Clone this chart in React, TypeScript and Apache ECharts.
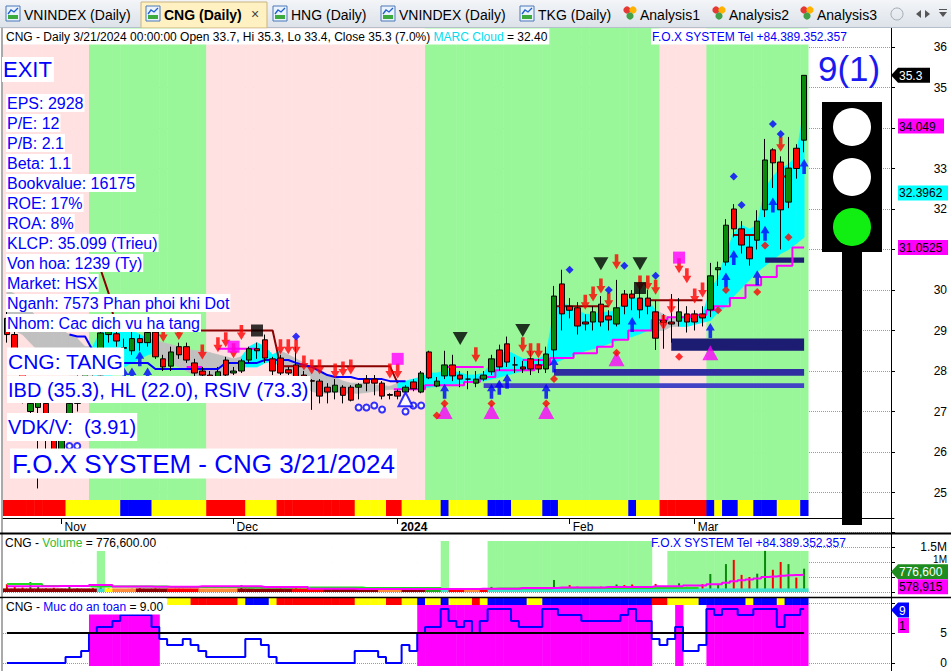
import React, { useEffect, useRef } from "react";
import * as echarts from "echarts";

const FONT = "'Liberation Sans', Arial, Helvetica, sans-serif";
const N_SLOTS = 114; // 103 trading days + blank bars on the right (AmiBroker style)

// ---------- daily candles: index 0 = 23 Oct 2023 ... index 102 = 21 Mar 2024
const OPEN = [
  29.3, 28.9, 28.3, 27.0, 27.1, 27.2, 26.3, 26.0, 26.5, 27.2,
  27.6, 28.2, 27.9, 28.9, 28.92, 28.58, 28.5, 28.8, 28.7, 28.96,
  28.3, 28.12, 28.6, 28.6, 28.2, 28.0, 27.9, 27.85, 28.27, 27.95,
  28.0, 28.27, 28.55, 28.77, 28.3, 28.32, 28.03, 28.15, 27.9, 27.76,
  27.75, 27.6, 27.48, 27.6, 27.6, 27.6, 27.8, 27.8, 27.7, 27.42,
  27.5, 27.48, 27.73, 27.48, 28.47, 27.63, 27.88, 28.15, 27.9, 27.8,
  27.7, 27.8, 27.98, 28.52, 28.67, 28.15, 28.1, 28.3, 28.15, 28.05,
  28.52, 30.15, 29.6, 29.56, 29.21, 29.21, 29.65, 29.36, 29.16, 29.9,
  29.9, 29.8, 29.8, 29.46, 29.25, 29.21, 29.23, 29.41, 29.41, 29.41,
  29.51, 30.5, 30.69, 32.0, 31.51, 31.06, 31.23, 31.98, 33.46, 33.16,
  32.17, 33.5, 33.7,
];
const HIGH = [
  29.5, 29.0, 28.4, 27.5, 27.5, 27.3, 26.5, 26.8, 27.3, 27.9,
  28.4, 28.5, 29.1, 29.4, 29.1, 28.8, 29.0, 28.9, 29.1, 29.1,
  28.4, 28.6, 28.7, 28.7, 28.3, 28.1, 28.0, 28.1, 28.35, 28.1,
  28.3, 28.6, 28.7, 28.9, 28.35, 28.4, 28.1, 28.6, 28.0, 27.8,
  27.8, 27.7, 27.8, 27.65, 27.65, 27.7, 27.9, 27.9, 27.75, 27.45,
  27.55, 27.65, 27.8, 28.0, 28.5, 27.85, 28.5, 28.4, 28.0, 28.0,
  28.0, 28.0, 28.4, 28.65, 28.85, 28.35, 28.25, 28.5, 28.3, 28.6,
  30.1, 30.5, 29.8, 29.7, 29.4, 29.6, 29.85, 29.5, 30.25, 30.0,
  30.0, 30.1, 30.0, 29.75, 29.4, 29.9, 29.8, 29.6, 29.5, 29.6,
  30.67, 30.7, 31.75, 32.12, 31.7, 31.36, 31.97, 33.73, 33.5, 33.3,
  33.78, 33.6, 35.3,
];
const LOW = [
  28.7, 28.1, 27.2, 26.5, 25.1, 26.0, 25.7, 25.8, 26.4, 27.0,
  27.5, 27.8, 27.8, 28.7, 28.6, 28.3, 28.4, 28.5, 28.6, 28.3,
  28.0, 28.0, 28.3, 28.2, 27.85, 27.8, 27.7, 27.8, 27.85, 27.9,
  27.95, 28.2, 28.3, 28.2, 27.9, 27.9, 27.9, 27.8, 27.6, 27.04,
  27.2, 27.2, 27.3, 27.2, 27.25, 27.3, 27.5, 27.4, 27.3, 27.3,
  27.3, 27.4, 27.5, 27.45, 27.8, 27.6, 27.8, 27.75, 27.6, 27.55,
  27.6, 27.75, 27.9, 28.0, 28.1, 27.95, 27.95, 27.9, 27.95, 27.95,
  28.3, 29.0, 29.3, 28.9, 29.0, 29.0, 29.1, 29.0, 29.1, 29.4,
  29.5, 29.3, 29.4, 28.52, 28.55, 28.7, 29.1, 28.95, 29.0, 29.1,
  29.33, 30.1, 30.6, 31.3, 30.9, 30.6, 31.0, 31.8, 32.52, 31.0,
  32.02, 32.75, 33.4,
];
const CLOSE = [
  28.9, 28.3, 27.4, 27.2, 27.25, 26.8, 26.0, 26.4, 27.2, 27.6,
  28.2, 28.0, 28.94, 29.2, 28.74, 28.56, 28.8, 28.7, 28.95, 28.35,
  28.1, 28.47, 28.4, 28.27, 27.95, 27.9, 27.85, 27.98, 27.9, 28.0,
  28.25, 28.55, 28.5, 28.32, 28.0, 27.95, 27.95, 27.85, 27.65, 27.75,
  27.38, 27.48, 27.65, 27.4, 27.28, 27.66, 27.7, 27.7, 27.38, 27.4,
  27.38, 27.6, 27.56, 27.95, 27.83, 27.75, 28.15, 27.88, 27.8, 27.8,
  27.8, 27.9, 28.3, 28.1, 28.22, 28.15, 28.05, 28.05, 28.05, 28.42,
  29.85, 29.41, 29.5, 29.11, 29.16, 29.46, 29.21, 29.26, 29.56, 29.6,
  29.8, 29.51, 29.6, 28.81, 29.2, 29.16, 29.46, 29.21, 29.21, 29.31,
  30.35, 30.55, 31.6, 31.51, 31.11, 30.77, 31.7, 33.21, 33.14, 31.98,
  33.01, 33.0, 35.3,
];
const VOLUME = [
  260000, 180000, 150000, 330000, 170000, 120000, 140000, 110000, 230000, 120000, 100000, 130000,
  150000, 120000, 100000, 90000, 110000, 130000, 90000, 120000, 100000, 80000, 110000, 90000, 100000, 80000, 90000, 70000, 100000,
  90000, 230000, 110000, 90000, 80000, 100000, 120000, 80000, 200000, 90000, 110000, 70000, 90000, 100000, 80000, 60000, 90000, 70000, 80000, 60000, 70000,
  80000, 60000, 90000, 120000, 150000, 70000, 90000, 80000, 60000, 90000, 70000, 120000,
  170000, 120000, 130000, 80000, 100000, 90000, 110000, 140000,
  400000, 150000, 230000, 180000, 150000, 170000, 180000, 200000, 250000, 230000, 250000, 200000, 170000, 270000, 170000, 130000,
  290000, 170000, 170000, 260000, 600000, 270000, 930000, 1070000, 570000, 500000, 610000, 1370000, 740000, 1000000, 930000, 480000, 776600,
];
const VOL_MA_SHORT = [
  190000, 190000, 190000, 190000, 190000, 190000, 190000, 200000, 200000, 200000,
  200000, 230000, 230000, 230000, 180000, 180000, 180000, 180000, 180000, 175000,
  175000, 175000, 175000, 175000, 175000, 190000, 190000, 190000, 190000, 190000,
  190000, 190000, 190000, 170000, 170000, 170000, 170000, 170000, 170000, 110000,
  110000, 110000, 110000, 110000, 110000, 100000, 100000, 100000, 100000, 100000,
  100000, 100000, 100000, 100000, 100000, 100000, 100000, 100000, 100000, 100000,
  100000, 110000, 110000, 110000, 110000, 110000, 130000, 130000, 130000, 130000,
  130000, 150000, 150000, 150000, 150000, 150000, 150000, 170000, 170000, 170000,
  170000, 170000, 170000, 190000, 190000, 190000, 190000, 220000, 220000, 220000,
  260000, 260000, 310000, 360000, 390000, 420000, 450000, 500000, 520000, 540000,
  560000, 565000, 578915,
];
const VOL_MA_LONG = [
  270000, 270000, 270000, 270000, 270000, 200000, 200000, 200000, 200000, 200000,
  200000, 180000, 180000, 180000, 180000, 180000, 180000, 180000, 180000, 180000,
  180000, 170000, 170000, 170000, 170000, 170000, 170000, 170000, 170000, 170000,
  170000, 150000, 150000, 150000, 150000, 150000, 150000, 150000, 150000, 150000,
  150000, 150000, 150000, 150000, 150000, 150000, 130000, 130000, 130000, 130000,
  130000, 130000, 130000, 130000, 130000, 130000, 100000, 100000, 100000, 100000,
  100000, 100000, 100000, 120000, 120000, 120000, 120000, 120000, 120000, 120000,
  130000, 130000, 130000, 130000, 130000, 130000, 130000, 130000, 130000, 130000,
  130000, 130000, 130000, 130000, 130000, 130000, 130000, 130000, 130000, null,
  null, null, null, null, null, null, null, null, null, null,
  null, null, null,
];
// "Muc do an toan" (safety level 0..9)
const SAFETY = [
  0, 0, 0, 0, 0, 0, 0, 0, 1, 1,
  2, 5, 6, 6, 7, 8, 8, 8, 8, 6,
  4, 3, 3, 4, 3, 2, 1, 1, 1, 1,
  1, 4, 4, 3, 1, 0, 0, 0, 0, 0,
  0, 0, 0, 0, 0, 2, 2, 2, 1, 0,
  0, 3, 2, 5, 6, 6, 9, 7, 6, 7,
  5, 7, 9, 9, 9, 7, 6, 6, 6, 9,
  9, 8, 8, 8, 7, 7, 7, 7, 7, 8,
  9, 7, 7, 4, 3, 4, 6, 2, 2, 3,
  9, 8, 9, 9, 8, 8, 9, 9, 9, 6,
  8, 8, 9,
];
// MARC cloud edges and state (1 = bullish cyan, 0 = bearish grey)
const CLOUD_HI = [
  30.0, 29.9, 29.7, 29.5, 29.3, 29.2, 29.1, 29.0, 28.9, 28.8,
  28.6, 28.6, 29.0, 29.2, 29.2, 29.1, 29.0, 28.9, 28.8, 28.75,
  28.7, 28.65, 28.6, 28.55, 28.5, 28.5, 28.45, 28.4, 28.35, 28.3,
  28.35, 28.6, 28.7, 28.6, 28.4, 28.5, 28.4, 28.3, 28.2, 28.1,
  28.0, 27.9, 27.85, 27.75, 27.7, 27.7, 27.68, 27.66, 27.64, 27.62,
  27.7, 27.75, 27.8, 27.85, 27.95, 27.95, 28.0, 28.0, 27.95, 27.9,
  27.9, 27.95, 28.2, 28.4, 28.5, 28.4, 28.3, 28.3, 28.3, 28.4,
  29.5, 29.7, 29.6, 29.5, 29.4, 29.4, 29.45, 29.45, 29.5, 29.7,
  29.8, 29.8, 29.75, 29.5, 29.4, 29.3, 29.35, 29.35, 29.4, 29.4,
  30.0, 30.3, 30.9, 31.4, 31.6, 31.5, 31.6, 32.5, 32.8, 33.0,
  33.1, 33.3, 34.5,
];
const CLOUD_LO = [
  29.2, 29.0, 28.9, 28.7, 28.5, 28.3, 28.1, 28.0, 27.9, 27.9,
  28.0, 27.5, 27.6, 27.8, 28.0, 28.1, 28.2, 28.3, 28.4, 28.45,
  28.3, 28.2, 28.1, 28.0, 27.9, 27.8, 27.8, 27.85, 27.9, 28.0,
  28.1, 28.1, 28.1, 28.2, 28.25, 28.1, 28.0, 27.8, 27.6, 27.5,
  27.45, 27.45, 27.5, 27.45, 27.45, 27.45, 27.47, 27.5, 27.52, 27.55,
  27.55, 27.55, 27.57, 27.58, 27.6, 27.62, 27.65, 27.67, 27.7, 27.72,
  27.74, 27.76, 27.8, 27.85, 27.9, 27.95, 28.0, 28.05, 28.1, 28.15,
  28.2, 28.28, 28.35, 28.42, 28.5, 28.55, 28.6, 28.68, 28.75, 28.8,
  28.85, 28.92, 29.0, 29.0, 29.0, 29.1, 29.1, 29.1, 29.15, 29.2,
  29.25, 29.45, 29.6, 29.85, 30.05, 30.25, 30.45, 30.6, 30.75, 30.9,
  31.0, 31.15, 31.3,
];
const CLOUD_BULL = [
  0, 0, 0, 0, 0, 0, 0, 0, 0, 0,
  0, 1, 1, 1, 1, 1, 1, 1, 1, 0,
  0, 0, 0, 0, 0, 0, 0, 0, 0, 0,
  1, 1, 1, 1, 1, 0, 0, 0, 0, 0,
  0, 0, 0, 0, 0, 0, 0, 0, 0, 0,
  1, 1, 1, 1, 1, 1, 1, 1, 1, 1,
  1, 1, 1, 1, 1, 1, 1, 1, 1, 1,
  1, 1, 1, 1, 1, 1, 1, 1, 1, 1,
  1, 1, 1, 0, 0, 0, 1, 1, 1, 1,
  1, 1, 1, 1, 1, 1, 1, 1, 1, 1,
  1, 1, 1,
];
const STOP_LINE = [
  30.5, 30.5, 30.5, 30.5, 30.5, 30.5, 30.5, 30.5, 30.5, 30.5,
  30.5, 30.5, 30.5, 29.93, 29.0, 29.0, 29.0, 29.0, 29.0, 29.0,
  29.0, 29.0, 29.0, 29.0, 29.0, 29.0, 29.0, 29.0, 29.0, 29.0,
  29.0, 29.0, 29.0, 29.0, 29.0, 28.12, 28.12, 28.12, 28.12, 28.12,
  28.12, 28.12, 28.12, 28.12, 28.12, 28.12, 28.12, 28.12, 28.12, 28.12,
  27.7, null, null, null, null, null, null, null, null, null,
  null, null, null, null, null, null, null, null, null, null,
  29.6, 29.6, 29.6, 29.6, 29.6, 29.6, 29.6, 29.6, null, null,
  null, null, 29.75, 29.75, 29.75, 29.75, 29.75, 29.75, 29.75, 29.75,
  null, null, null, 31.36, 31.36, 31.36, 31.36, null, null, 32.8,
  32.8, null, null,
];
const BLUE_LINE = [
  null, null, null, null, null, null, null, null, 28.9, 28.85,
  28.85, 28.5, 28.5, 28.5, 28.2, 28.2, 28.2, 28.2, 28.2, 28.05,
  28.05, 28.05, 28.05, 28.05, 28.05, 28.05, 28.05, 28.05, 28.2, 28.2,
  28.2, 28.2, 28.2, 28.27, 28.27, 28.27, 28.27, 28.2, 28.15, 28.1,
  28.0, 27.9, 27.85, 27.85, 27.85, 27.8, 27.8, 27.8, 27.8, 27.75,
  27.75, 27.75, null, null, null, null, null, null, null, null,
  null, null, null, null, null, null, null, null, null, null,
  null, null, null, null, null, null, null, null, null, null,
  null, null, null, null, null, null, null, null, null, null,
  null, null, null, null, null, null, null, null, null, null,
  null, null, null,
];
const MAG_STEP = [
  null, null, null, null, null, null, null, null, null, null,
  null, null, null, null, null, null, null, null, null, null,
  null, null, null, null, null, null, null, null, null, null,
  null, null, null, null, null, null, null, null, null, null,
  null, null, null, null, null, null, null, null, null, null,
  27.55, 27.55, 27.55, 27.55, 27.65, 27.65, 27.65, 27.65, 27.65, 27.73,
  27.73, 27.85, 27.85, 28.02, 28.02, 28.02, 28.02, 28.02, 28.15, 28.15,
  28.32, 28.32, 28.32, 28.44, 28.44, 28.44, 28.6, 28.6, 28.77, 28.77,
  29.0, 29.0, 29.0, 29.26, 29.26, 29.33, 29.33, 29.33, 29.38, 29.38,
  29.5, 29.6, 29.6, 29.8, 29.8, 30.12, 30.12, 30.32, 30.32, 30.6,
  30.6, 31.05, 31.05,
];
const MAG_TOP = [
  null, null, null, null, null, null, null, null, null, null,
  null, null, null, null, null, null, null, null, null, null,
  null, null, null, 28.1, 28.1, 28.1, null, 28.55, 28.55, 28.55,
  28.55, 28.55, 28.55, null, null, null, null, null, null, null,
  null, null, null, null, null, null, null, null, null, null,
  null, null, null, null, null, null, 28.1, 28.1, 28.1, 28.1,
  28.1, 28.1, null, null, null, null, 28.27, 28.27, 28.27, 28.27,
  null, null, null, null, null, null, null, null, null, null,
  null, null, null, null, null, null, null, null, null, null,
  null, null, null, null, null, null, null, null, null, null,
  null, null, null,
];
// support zones: [fromIndex, toIndex, top, bottom]
const ZONES = [
  [70, 102, 28.05, 27.88],
  [61, 102, 27.7, 27.58],
  [85, 102, 28.8, 28.5],
  [97, 102, 30.8, 30.67],
];
const ZONE_COLORS = ["#2E2EA0", "#4343C6", "#1C1C72", "#1C1C72"];

// signal markers: [index, price]
const RED_DOWN = [[20, 28.9], [22, 28.95], [25, 28.47], [27, 28.65], [28, 28.77], [29, 28.5], [30, 28.95], [35, 28.6], [36, 28.6], [37, 28.6], [38, 28.2], [39, 28.1], [40, 28.1], [42, 28.0], [43, 28.05], [44, 28.1], [49, 28.0], [50, 28.0], [60, 28.4], [66, 28.65], [67, 28.5], [68, 28.5], [74, 29.7], [75, 29.9], [76, 30.1], [77, 29.75], [78, 30.7], [81, 30.17], [82, 30.17], [83, 30.07], [84, 29.2], [85, 29.6], [86, 30.6], [87, 30.35], [88, 29.85], [89, 30.0], [99, 33.6]];
const BLUE_UP = [[15, 27.9], [16, 27.9], [17, 28.3], [18, 27.9], [56, 27.5], [62, 27.5], [63, 27.6], [64, 27.75], [69, 27.5], [70, 28.15], [80, 29.15], [90, 29.0], [92, 30.25], [93, 30.8], [96, 30.3], [97, 31.4], [98, 32.1], [102, 33.05]];
const BLACK_DOWN = [[58, 28.8], [66, 29.0], [76, 30.65], [81, 30.65]];
const MAG_SQUARE = [[29, 28.6], [50, 28.3], [86, 30.8]];
const BLACK_SQUARE = [[32, 29.0], [81, 30.05]];
const MAG_UP = [[56, 27.0], [62, 27.0], [69, 27.0], [78, 28.3], [90, 28.45]];
const RED_DOT = [[55, 26.9], [56, 27.2], [62, 27.2], [69, 27.2], [70, 27.8], [78, 28.45], [86, 28.35], [91, 29.5], [92, 30.0], [96, 29.95], [97, 31.1], [100, 31.3]];
const BLUE_DOT = [[37, 28.85], [72, 30.5], [77, 30.0], [79, 30.6], [83, 30.35], [93, 32.8], [94, 32.1], [98, 34.1], [99, 33.85]];
const BLUE_RING = [[8, 26.15], [9, 26.15], [45, 27.1], [46, 27.1], [47, 27.15], [48, 27.05], [51, 27.0], [52, 27.15], [53, 27.15]];
const BLUE_TRI = [[51, 27.3]];

// colour runs [from, toExclusive, colour]
const BAND_RUNS = [[0, 11, "pink"], [11, 26, "green"], [26, 54, "pink"], [54, 84, "green"], [84, 90, "pink"], [90, 103, "green"]];
const STRIP_RUNS = [[0, 8, "red"], [8, 15, "yellow"], [15, 19, "blue"], [19, 26, "yellow"], [26, 31, "red"], [31, 35, "yellow"], [35, 45, "red"], [45, 49, "yellow"], [49, 51, "red"], [51, 56, "yellow"], [56, 57, "blue"], [57, 62, "yellow"], [62, 65, "blue"], [65, 69, "yellow"], [69, 71, "blue"], [71, 80, "yellow"], [80, 81, "blue"], [81, 84, "yellow"], [84, 90, "red"], [90, 91, "blue"], [91, 92, "yellow"], [92, 94, "blue"], [94, 96, "yellow"], [96, 99, "blue"], [99, 102, "yellow"], [102, 103, "blue"]];
const SAFE_STRIP_RUNS = [[21, 24, "yellow"], [24, 30, "red"], [30, 31, "yellow"], [31, 34, "blue"], [34, 35, "yellow"], [35, 45, "red"], [45, 49, "yellow"], [49, 51, "red"], [51, 53, "yellow"], [53, 54, "blue"], [54, 56, "yellow"], [56, 57, "blue"], [57, 60, "yellow"], [60, 61, "red"], [61, 62, "yellow"], [62, 67, "blue"], [67, 69, "yellow"], [69, 83, "blue"], [83, 85, "red"], [85, 89, "yellow"], [89, 95, "blue"], [95, 96, "yellow"], [96, 99, "blue"], [99, 100, "yellow"], [100, 103, "blue"]];
const RIBBON_RUNS = [[0, 12, "darkred"], [12, 13, "turq"], [13, 14, "yellow"], [14, 17, "orange"], [17, 21, "darkred"], [21, 25, "red"], [25, 30, "orange"], [30, 37, "darkred"], [37, 41, "red"], [41, 48, "darkred"], [48, 51, "orange"], [51, 54, "darkred"], [54, 56, "vgreen"], [56, 57, "turq"], [57, 59, "red"], [59, 61, "orange"], [61, 62, "red"], [62, 103, "turq"]];
const VOL_HL_RUNS = [[12, 13, 1370000], [56, 57, 1700000], [62, 83, 1700000], [85, 103, 1370000]];
const MONTH_TICKS: [number, string][] = [[7, "Nov"], [29, "Dec"], [50, "2024"], [72, "Feb"], [88, "Mar"]];
const SAFE_LEVEL = 5;
// price-axis labels hidden behind value tags in the reference
const HIDDEN_PRICE_LABELS = [31, 34];

const COLORS: Record<string, string> = {
  pink: "#FFE1E1", green: "#99F799", red: "#FF0000", yellow: "#FFFF00", blue: "#0000FF",
  white: "#FFFFFF", magenta: "#FF00FF", darkred: "#8B0000", orange: "#FF8C3A", turq: "#40E0D0", vgreen: "#22AA22",
};
const KEYS = Object.keys(COLORS);
const PAL = KEYS.map((k) => COLORS[k]);
const code = (k: string) => KEYS.indexOf(k);

const CATS = Array.from({ length: N_SLOTS }, (_, i) => "d" + i);
const N = CLOSE.length;

function expandRuns(runs: any[], lo: number, hi: number) {
  const out: number[][] = [];
  runs.forEach(([a, b, c]) => {
    for (let i = a; i < b; i++) out.push([i, lo, hi, code(c)]);
  });
  return out;
}

const bandRender = (params: any, api: any) => {
  const i = api.value(0);
  const p0 = api.coord([i, api.value(1)]);
  const p1 = api.coord([i, api.value(2)]);
  const w = api.size([1, 0])[0];
  return {
    type: "rect",
    shape: { x: p0[0] - w / 2, y: p1[1], width: w + 0.5, height: p0[1] - p1[1] },
    style: { fill: PAL[api.value(3)] },
    silent: true,
  };
};

const cloudRender = (params: any, api: any) => {
  const i = api.value(0);
  const a = api.coord([i, api.value(1)]);
  const b = api.coord([i + 1, api.value(3)]);
  const c = api.coord([i + 1, api.value(4)]);
  const d = api.coord([i, api.value(2)]);
  const col = api.value(5) ? "#00FFFF" : "#C0C0C0";
  return { type: "polygon", shape: { points: [a, b, c, d] }, style: { fill: col, stroke: col, lineWidth: 0.8 }, silent: true };
};

const zoneRender = (params: any, api: any) => {
  const a = api.coord([api.value(0), api.value(2)]);
  const b = api.coord([api.value(1), api.value(3)]);
  return {
    type: "rect",
    shape: { x: a[0], y: a[1], width: b[0] - a[0], height: Math.max(2, b[1] - a[1]) },
    style: { fill: ZONE_COLORS[api.value(4)] },
    silent: true,
  };
};

function buildOption(): any {
  const tickSet = new Set(MONTH_TICKS.map((t) => t[0]));
  const labelMap: Record<number, string> = {};
  MONTH_TICKS.forEach(([i, s]) => (labelMap[i] = s));

  const grids = [
    { left: 3, top: 28, width: 891, height: 490 },
    { left: 3, top: 47, width: 891, height: 445.5 },
    { left: 3, top: 532, width: 891, height: 60 },
    { left: 3, top: 598, width: 891, height: 68 },
    { left: 3, top: 603, width: 891, height: 60 },
  ];
  const xAxis = grids.map((_, g) => ({
    type: "category",
    gridIndex: g,
    data: CATS,
    boundaryGap: true,
    show: g === 0,
    axisLine: { show: true, lineStyle: { color: "#000", width: 1 } },
    axisTick: { show: true, interval: (i: number) => tickSet.has(i), alignWithLabel: true, length: 6, lineStyle: { color: "#000" } },
    axisLabel: {
      show: true,
      interval: (i: number) => tickSet.has(i),
      formatter: (v: string, i: number) => (labelMap[i] === "2024" ? "{b|2024}" : labelMap[i] || ""),
      align: "left",
      margin: 3,
      padding: [0, 0, 0, 3],
      color: "#000",
      fontSize: 12,
      fontFamily: FONT,
      rich: { b: { fontWeight: "bold", fontSize: 12, fontFamily: FONT, color: "#000" } },
    },
    splitLine: { show: false },
  }));
  const rightAxis = (g: number, min: number, max: number, interval: number, fmt: any, rich: any = undefined) => ({
    type: "value",
    gridIndex: g,
    min,
    max,
    interval,
    position: "right",
    offset: -3,
    axisLine: { show: false },
    axisTick: { show: true, length: 4, lineStyle: { color: "#000" } },
    axisLabel: { margin: 56, align: "right", color: "#000", fontSize: 12, fontFamily: FONT, formatter: fmt, rich },
    splitLine: { show: true, lineStyle: { type: "dotted", color: "#9A9A9A", width: 1 } },
  });
  const yAxis = [
    { type: "value", gridIndex: 0, min: 0, max: 490, show: false },
    rightAxis(1, 25, 36, 1, (v: number) => (HIDDEN_PRICE_LABELS.includes(v) ? "" : String(v))),
    rightAxis(
      2,
      0,
      2000000,
      500000,
      (v: number) => (v === 1500000 ? "1.5M" : v === 1000000 ? "{u|1M}" : ""),
      { u: { fontSize: 10, fontFamily: FONT, color: "#000", padding: [0, 0, 5, 0] } }
    ),
    { type: "value", gridIndex: 3, min: 0, max: 68, show: false },
    rightAxis(4, 0, 10, 5, (v: number) => (v === 10 ? "" : String(v))),
  ];

  const mainBg = [...expandRuns(BAND_RUNS, 18, 490), ...expandRuns(STRIP_RUNS, 2, 18)];
  const cloudData = [];
  for (let i = 0; i < N - 1; i++) cloudData.push([i, CLOUD_HI[i], CLOUD_LO[i], CLOUD_HI[i + 1], CLOUD_LO[i + 1], CLOUD_BULL[i]]);
  const zoneData = ZONES.map((z, k) => [z[0], z[1], z[2], z[3], k]);

  const volCover = CLOSE.map((_, i) => [i, 0, 2000000, code("white")]);
  const volHl: number[][] = [];
  VOL_HL_RUNS.forEach(([a, b, v]) => {
    for (let i = a; i < b; i++) volHl.push([i, 0, v, code("green")]);
  });
  const ribbon = expandRuns(RIBBON_RUNS, 0, 120000);
  const safeBg: number[][] = [];
  SAFETY.forEach((v, i) => {
    if (v >= SAFE_LEVEL) safeBg.push([i, 0, 61, code("magenta")]);
  });
  safeBg.push(...expandRuns(SAFE_STRIP_RUNS, 61, 68));

  const candles = OPEN.map((o, i) => [o, CLOSE[i], LOW[i], HIGH[i]]);
  const volBars = VOLUME.map((v, i) => ({ value: v, itemStyle: { color: CLOSE[i] >= OPEN[i] ? "#0A8A0A" : "#FF0000" } }));

  const ARROW_DOWN = "path://M3,0L7,0L7,7L10,7L5,14L0,7L3,7Z";
  const ARROW_UP = "path://M5,0L10,7L7,7L7,14L3,14L3,7L0,7Z";
  const TRI_DOWN = "path://M0,0L14,0L7,12Z";
  const marker = (data: any, symbol: string, size: any, color: string, z = 7, extra: any = {}) => ({
    type: "scatter",
    xAxisIndex: 1,
    yAxisIndex: 1,
    data,
    symbol,
    symbolSize: size,
    symbolKeepAspect: false,
    itemStyle: { color, ...extra },
    z,
    silent: true,
  });
  const line = (data: any, color: string, width: number, step: any, z = 4, xi = 1, yi = 1) => ({
    type: "line",
    xAxisIndex: xi,
    yAxisIndex: yi,
    data,
    step,
    showSymbol: false,
    symbol: "none",
    connectNulls: false,
    lineStyle: { color, width },
    z,
    silent: true,
  });

  return {
    animation: false,
    backgroundColor: "#FFFFFF",
    grid: grids,
    xAxis,
    yAxis,
    series: [
      { type: "custom", xAxisIndex: 0, yAxisIndex: 0, data: mainBg, renderItem: bandRender, z: 1, silent: true },
      { type: "custom", xAxisIndex: 1, yAxisIndex: 1, data: cloudData, renderItem: cloudRender, z: 2, silent: true },
      { type: "custom", xAxisIndex: 1, yAxisIndex: 1, data: zoneData, renderItem: zoneRender, z: 3, silent: true },
      line(STOP_LINE, "#8B0000", 2, false, 4),
      line(BLUE_LINE, "#0000FF", 2, false, 4),
      line(MAG_TOP, "#FF00FF", 2, false, 4),
      line(MAG_STEP, "#FF00FF", 2, "middle", 4),
      {
        type: "candlestick",
        xAxisIndex: 1,
        yAxisIndex: 1,
        data: candles,
        barWidth: 6,
        itemStyle: { color: "#0A8A0A", color0: "#FF0000", borderColor: "#000", borderColor0: "#000", borderWidth: 1 },
        z: 5,
        silent: true,
      },
      marker(MAG_UP, "triangle", [16, 15], "#FF00FF", 6),
      marker(RED_DOWN, ARROW_DOWN, [9, 15], "#FF0000"),
      marker(BLUE_UP, ARROW_UP, [9, 15], "#0000FF"),
      marker(BLACK_DOWN, TRI_DOWN, [15, 13], "#000000"),
      marker(MAG_SQUARE, "rect", [12, 12], "#FF00FF"),
      marker(BLACK_SQUARE, "rect", [12, 12], "#000000"),
      marker(RED_DOT, "diamond", [8, 8], "#FF0000", 8),
      marker(BLUE_DOT, "diamond", [8, 8], "#0000FF", 8),
      marker(BLUE_RING, "emptyCircle", 6, "#0000FF", 8, { borderWidth: 1 }),
      marker(BLUE_TRI, "emptyTriangle", [14, 14], "#0000FF", 8, { borderWidth: 1.5 }),
      // volume pane
      { type: "custom", xAxisIndex: 2, yAxisIndex: 2, data: volCover, renderItem: bandRender, z: 1, silent: true },
      { type: "custom", xAxisIndex: 2, yAxisIndex: 2, data: volHl, renderItem: bandRender, z: 2, silent: true },
      { type: "bar", xAxisIndex: 2, yAxisIndex: 2, data: volBars, barWidth: 2, z: 3, silent: true },
      { type: "custom", xAxisIndex: 2, yAxisIndex: 2, data: ribbon, renderItem: bandRender, z: 4, silent: true },
      line(VOL_MA_LONG, "#22DD22", 2, "middle", 5, 2, 2),
      line(VOL_MA_SHORT, "#FF00FF", 2, "middle", 5, 2, 2),
      // safety pane
      { type: "custom", xAxisIndex: 3, yAxisIndex: 3, data: safeBg, renderItem: bandRender, z: 1, silent: true },
      {
        type: "line",
        xAxisIndex: 4,
        yAxisIndex: 4,
        data: SAFETY,
        step: "middle",
        symbol: "none",
        lineStyle: { color: "#0000FF", width: 2 },
        z: 4,
        silent: true,
        markLine: {
          silent: true,
          symbol: "none",
          label: { show: false },
          lineStyle: { color: "#000", width: 2, type: "solid" },
          data: [[{ coord: [0, SAFE_LEVEL] }, { coord: [N - 1, SAFE_LEVEL] }]],
        },
      },
    ],
  };
}

function T(x: number, y: number, text: string, size: number, fill: string, extra: any = {}) {
  return {
    type: "text",
    x,
    y,
    z: 100,
    silent: true,
    style: {
      text,
      fill,
      fontSize: size,
      fontFamily: FONT,
      fontWeight: extra.bold ? "bold" : "normal",
      align: extra.align || "left",
      verticalAlign: "middle",
      backgroundColor: extra.bg,
      padding: extra.pad,
      rich: extra.rich,
    },
  };
}

function buildGraphics(py: (axis: number, v: number) => number): any[] {
  const g: any[] = [];
  // tab bar
  g.push({
    type: "rect",
    z: 90,
    shape: { x: 0, y: 0, width: 951, height: 28 },
    style: { fill: new echarts.graphic.LinearGradient(0, 0, 0, 1, [{ offset: 0, color: "#F3F5F8" }, { offset: 1, color: "#DCE2E9" }]) },
  });
  g.push({ type: "line", z: 91, shape: { x1: 0, y1: 27.5, x2: 951, y2: 27.5 }, style: { stroke: "#B5BFCB", lineWidth: 1 } });
  g.push({ type: "rect", z: 91, shape: { x: 141, y: 2, width: 126, height: 26 }, style: { fill: "#FFF1C2", stroke: "#C9B57E", lineWidth: 1 } });
  const tabs = [
    { x: 6, kind: "chart", label: "VNINDEX (Daily)" },
    { x: 146, kind: "chart", label: "CNG (Daily)", active: true },
    { x: 273, kind: "chart", label: "HNG (Daily)" },
    { x: 381, kind: "chart", label: "VNINDEX (Daily)" },
    { x: 520, kind: "chart", label: "TKG (Daily)" },
    { x: 622, kind: "ana", label: "Analysis1" },
    { x: 711, kind: "ana", label: "Analysis2" },
    { x: 799, kind: "ana", label: "Analysis3" },
  ];
  tabs.forEach((t) => {
    if (t.kind === "chart") {
      g.push({ type: "rect", z: 92, shape: { x: t.x, y: 6, width: 14, height: 15 }, style: { fill: "#EAF2FB", stroke: "#4A78B8", lineWidth: 1 } });
      g.push({ type: "rect", z: 93, shape: { x: t.x + 2, y: 15, width: 10, height: 4 }, style: { fill: "#3DAA3D" } });
      g.push({ type: "polyline", z: 93, shape: { points: [[t.x + 2, 14], [t.x + 5, 10], [t.x + 8, 12], [t.x + 12, 8]] }, style: { stroke: "#1F5FCF", lineWidth: 1.3, fill: "none" } });
    } else {
      g.push({ type: "circle", z: 92, shape: { cx: t.x + 5, cy: 10, r: 3.6 }, style: { fill: "#E53935" } });
      g.push({ type: "circle", z: 92, shape: { cx: t.x + 11, cy: 10, r: 3.6 }, style: { fill: "#FFB300" } });
      g.push({ type: "circle", z: 92, shape: { cx: t.x + 8, cy: 16, r: 3.6 }, style: { fill: "#43A047" } });
    }
    g.push(T(t.x + 18, 14.5, t.label, 14, "#000", { bold: !!t.active }));
  });
  g.push(T(251, 14, "×", 14, "#444"));
  g.push({ type: "circle", z: 92, shape: { cx: 897, cy: 14, r: 6 }, style: { fill: "none", stroke: "#A3ABB5", lineWidth: 1 } });
  g.push({ type: "polygon", z: 92, shape: { points: [[921, 10], [921, 18], [916, 14]] }, style: { fill: "#555" } });
  g.push({ type: "polygon", z: 92, shape: { points: [[925, 10], [925, 18], [930, 14]] }, style: { fill: "#555" } });
  g.push({ type: "polygon", z: 92, shape: { points: [[939, 12], [947, 12], [943, 17]] }, style: { fill: "#555" } });
  g.push({ type: "line", z: 92, shape: { x1: 939, y1: 9.5, x2: 947, y2: 9.5 }, style: { stroke: "#555", lineWidth: 1 } });

  // frame lines
  g.push({ type: "line", z: 95, shape: { x1: 2, y1: 28, x2: 2, y2: 671 }, style: { stroke: "#555", lineWidth: 1 } });
  g.push({ type: "line", z: 95, shape: { x1: 891.5, y1: 28, x2: 891.5, y2: 671 }, style: { stroke: "#000", lineWidth: 1 } });
  g.push({ type: "line", z: 95, shape: { x1: 0, y1: 533.5, x2: 951, y2: 533.5 }, style: { stroke: "#000", lineWidth: 2 } });
  g.push({ type: "line", z: 95, shape: { x1: 0, y1: 597.5, x2: 951, y2: 597.5 }, style: { stroke: "#000", lineWidth: 1.5 } });

  // header of main pane
  g.push(
    T(3, 36.5, "{k|CNG - Daily 3/21/2024 00:00:00 Open 33.7, Hi 35.3, Lo 33.4, Close 35.3 (7.0%) }{c|MARC Cloud}{k| = 32.40}", 12, "#000", {
      bg: "#FFFFFF",
      pad: [2, 2, 2, 3],
      rich: {
        k: { fill: "#000", fontSize: 12, fontFamily: FONT },
        c: { fill: "#00DDEE", fontSize: 12, fontFamily: FONT },
      },
    })
  );
  g.push(T(651, 36.5, "F.O.X SYSTEM Tel +84.389.352.357", 12, "#0000FF", { bg: "#FFFFFF", pad: [2, 1, 2, 1] }));

  // left info overlay
  g.push(T(2, 69.5, "EXIT", 22, "#0000FF", { bg: "#FFFFFF", pad: [2, 2, 1, 1] }));
  const info = ["EPS: 2928", "P/E: 12", "P/B: 2.1", "Beta: 1.1", "Bookvalue: 16175", "ROE: 17%", "ROA: 8%", "KLCP: 35.099 (Trieu)", "Von hoa: 1239 (Ty)", "Market: HSX", "Nganh: 7573 Phan phoi khi Dot", "Nhom: Cac dich vu ha tang"];
  info.forEach((s, k) => g.push(T(6, 103 + 20 * k, s, 16, "#0000FF", { bg: "#FFFFFF", pad: [1, 1, 1, 1] })));
  g.push(T(7, 361.5, "CNG: TANG", 21, "#0000FF", { bg: "#FFFFFF", pad: [4, 1, 3, 1] }));
  g.push(T(7, 389.5, "IBD (35.3), HL (22.0), RSIV (73.3)", 20, "#0000FF", { bg: "#FFFFFF", pad: [4, 1, 3, 1] }));
  g.push(T(7, 427, "VDK/V:  (3.91)", 20, "#0000FF", { bg: "#FFFFFF", pad: [4, 1, 4, 1] }));
  g.push(T(10, 463.5, "F.O.X SYSTEM - CNG 3/21/2024", 26, "#0000FF", { bg: "#FFFFFF", pad: [2, 2, 2, 2] }));

  // traffic light
  g.push(T(818, 68, "9(1)", 35, "#1A1AF0"));
  g.push({ type: "rect", z: 96, shape: { x: 822, y: 102, width: 60, height: 150 }, style: { fill: "#000" } });
  g.push({ type: "rect", z: 96, shape: { x: 842, y: 252, width: 20, height: 273 }, style: { fill: "#000" } });
  g.push({ type: "circle", z: 97, shape: { cx: 852, cy: 127, r: 19 }, style: { fill: "#FFFFFF" } });
  g.push({ type: "circle", z: 97, shape: { cx: 852, cy: 177, r: 19 }, style: { fill: "#FFFFFF" } });
  g.push({ type: "circle", z: 97, shape: { cx: 852, cy: 227, r: 19 }, style: { fill: "#11EE11" } });

  // value tags on the right axis
  const tag = (y: number, label: string, bg: string, fg: string, arrow: boolean) => {
    const right = Math.min(948, 898 + label.length * 7 + 4);
    const pts = arrow
      ? [[891, y], [898, y - 7.5], [right, y - 7.5], [right, y + 7.5], [898, y + 7.5]]
      : [[898, y - 7.5], [right, y - 7.5], [right, y + 7.5], [898, y + 7.5]];
    g.push({ type: "polygon", z: 98, shape: { points: pts }, style: { fill: bg } });
    g.push(T(899, y + 0.5, label, 12, fg));
  };
  tag(py(1, CLOSE[N - 1]), "35.3", "#000000", "#FFFFFF", true);
  tag(py(1, 34.049), "34.049", "#FF00FF", "#000000", false);
  tag(py(1, 32.3962), "32.3962", "#00FFFF", "#000000", false);
  tag(py(1, MAG_STEP[N - 1] as number), "31.0525", "#FF00FF", "#000000", false);
  const yVol = py(2, VOLUME[N - 1]);
  tag(yVol + 3, "776,600", "#1E8C1E", "#FFFFFF", true);
  tag(yVol + 18, "578,915", "#FF00FF", "#000000", false);
  const ySafe = py(4, SAFETY[N - 1]);
  tag(ySafe + 1, "9", "#0000FF", "#FFFFFF", true);
  tag(ySafe + 16.5, "1", "#FF00FF", "#000000", false);

  // pane titles
  g.push(
    T(5, 543, "{k|CNG - }{g|Volume}{k| = 776,600.00}", 12, "#000", {
      rich: { k: { fill: "#000", fontSize: 12, fontFamily: FONT }, g: { fill: "#33BB33", fontSize: 12, fontFamily: FONT } },
    })
  );
  g.push(T(651, 543, "F.O.X SYSTEM Tel +84.389.352.357", 12, "#0000FF"));
  g.push(
    T(3, 606.5, "{k|CNG - }{b|Muc do an toan}{k| = 9.00}", 12, "#000", {
      bg: "#FFFFFF",
      pad: [2, 3, 2, 3],
      rich: { k: { fill: "#000", fontSize: 12, fontFamily: FONT }, b: { fill: "#0000FF", fontSize: 12, fontFamily: FONT } },
    })
  );
  return g;
}

export default function App() {
  const ref = useRef<HTMLDivElement>(null);
  useEffect(() => {
    const el = ref.current;
    if (!el) return;
    const chart = echarts.init(el, undefined, { renderer: "svg" });
    chart.setOption(buildOption());
    const py = (axis: number, v: number) => chart.convertToPixel({ yAxisIndex: axis } as any, v) as unknown as number;
    chart.setOption({ graphic: { elements: buildGraphics(py) } });
    return () => chart.dispose();
  }, []);
  return <div ref={ref} style={{ position: "absolute", left: 0, top: 0, width: 951, height: 671, background: "#fff" }} />;
}
